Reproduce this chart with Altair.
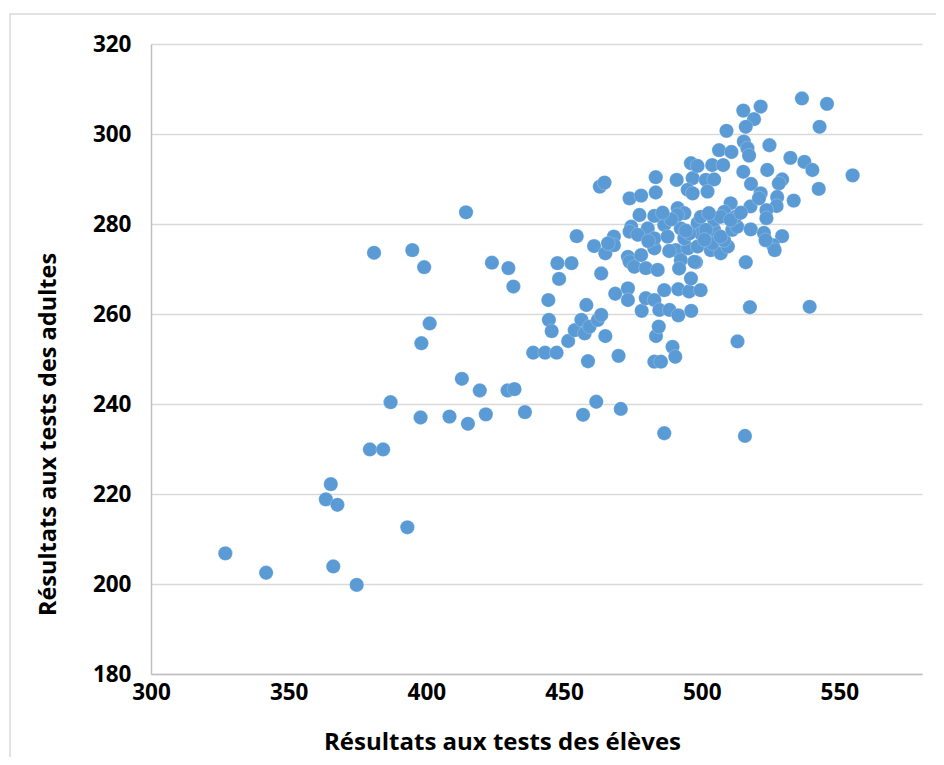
import altair as alt
import pandas as pd

# Résultats aux tests des élèves (x) et des adultes (y)
eleves = [
    327.0, 341.8, 366.2, 374.7, 363.5, 365.3, 367.7, 379.5, 384.3, 393.1,
    387.0, 397.9, 398.2, 401.2, 381.0, 394.9, 399.2, 408.4, 412.9, 414.4,
    415.1, 419.4, 421.6, 423.8, 429.5, 432.0, 429.8, 431.6, 435.8, 438.8,
    443.1, 447.3, 444.3, 444.5, 445.5, 447.6, 452.7, 448.2, 454.6, 451.5,
    453.9, 456.3, 457.5, 459.3, 462.3, 463.5, 465.0, 458.1, 458.7, 456.9,
    461.7, 470.6, 469.8, 460.9, 465.0, 468.1, 468.1, 463.5, 463.0, 464.7,
    473.8, 478.0, 468.6, 473.2, 473.2, 478.2, 479.7, 482.8, 482.8, 485.2,
    489.4, 490.4, 483.4, 484.4, 486.4, 513.0, 515.7, 516.0, 517.5, 539.2,
    484.6, 488.3, 491.5, 496.2, 486.4, 491.5, 495.4, 499.6, 496.1, 473.2,
    473.8, 475.5, 479.7, 484.0, 478.0, 482.8, 490.6, 492.4, 491.8, 497.9,
    495.0, 498.5, 503.3, 506.9, 504.1, 509.5, 497.3, 474.4, 473.8, 480.4,
    486.4, 476.8, 482.8, 487.6, 492.4, 493.7, 498.5, 499.7, 504.5, 503.9,
    508.1, 477.4, 482.8, 499.7, 491.3, 493.7, 510.5, 508.2, 483.3, 490.9,
    496.7, 501.5, 504.5, 483.3, 494.9, 496.7, 502.1, 496.1, 498.5, 503.8,
    507.8, 506.3, 510.8, 509.0, 515.1, 521.4, 519.0, 516.0, 515.3, 516.6,
    517.2, 524.6, 532.2, 537.3, 540.2, 542.5, 523.8, 529.2, 528.0, 533.4,
    527.4, 527.2, 515.1, 517.9, 521.4, 517.7, 523.5, 523.5, 536.4, 545.5,
    542.8, 554.8, 504.5, 495.5, 501.5, 506.9, 511.1, 512.9, 512.2, 517.8,
    522.6, 529.2, 525.9, 526.5, 523.2, 520.8, 491.2, 506.9, 510.5, 466.0,
    488.9, 485.8, 480.6, 488.2, 494.2, 501.0, 502.6, 514.2,
]
adultes = [
    206.8, 202.5, 203.9, 199.8, 218.8, 222.2, 217.6, 229.9, 229.9, 212.6,
    240.4, 237.0, 253.5, 257.9, 273.6, 274.2, 270.4, 237.2, 245.6, 282.6,
    235.6, 243.0, 237.7, 271.4, 243.0, 243.3, 270.2, 266.1, 238.2, 251.4,
    251.4, 251.4, 263.1, 258.7, 256.2, 271.3, 271.3, 267.8, 277.3, 254.0,
    256.4, 258.7, 255.7, 257.2, 258.7, 259.8, 255.1, 262.0, 249.5, 237.6,
    240.5, 238.9, 250.7, 275.1, 273.5, 277.2, 275.3, 269.0, 288.3, 289.2,
    285.7, 286.3, 264.5, 265.7, 263.1, 260.7, 263.5, 263.1, 249.4, 249.4,
    252.7, 250.5, 255.1, 257.2, 233.5, 253.9, 232.9, 271.5, 261.5, 261.6,
    260.9, 260.9, 259.7, 260.7, 265.3, 265.5, 265.0, 265.3, 267.9, 272.7,
    271.6, 270.5, 270.2, 269.8, 273.1, 274.6, 274.2, 272.0, 270.1, 271.5,
    274.6, 275.0, 274.2, 273.5, 276.1, 275.0, 271.6, 279.4, 278.3, 279.0,
    279.8, 277.6, 276.8, 277.2, 279.0, 276.8, 280.2, 277.9, 278.7, 275.7,
    276.4, 282.0, 281.8, 281.6, 283.5, 282.4, 284.6, 282.7, 290.4, 289.8,
    290.2, 289.8, 289.9, 287.0, 287.6, 286.8, 287.2, 293.5, 292.9, 293.1,
    293.1, 296.4, 296.0, 300.7, 305.2, 306.1, 303.3, 301.6, 298.3, 296.8,
    295.2, 297.5, 294.7, 293.8, 292.0, 287.8, 292.0, 289.9, 289.0, 285.2,
    286.0, 284.0, 291.6, 288.9, 286.8, 283.9, 283.1, 281.3, 307.9, 306.7,
    301.6, 290.8, 280.9, 277.9, 278.7, 277.2, 278.7, 279.4, 281.6, 278.8,
    278.0, 277.3, 275.3, 274.2, 276.4, 285.7, 282.0, 281.6, 280.9, 275.7,
    281.0, 282.5, 276.2, 274.0, 278.5, 276.5, 282.4, 282.5,
]

x_ticks = [300, 350, 400, 450, 500, 550]
y_ticks = [180, 200, 220, 240, 260, 280, 300, 320]

df = pd.DataFrame({"eleves": eleves, "adultes": adultes})

FONT = "Open Sans"

points = alt.Chart(df).mark_circle(
    size=205, color="#5B9BD5", opacity=1, stroke="#ffffff", strokeWidth=0.4, strokeOpacity=0.5
).encode(
    x=alt.X(
        "eleves:Q",
        scale=alt.Scale(domain=[300, 580], nice=False, zero=False),
        axis=alt.Axis(
            values=x_ticks,
            title="Résultats aux tests des élèves",
            grid=False,
            domain=True,
            domainColor="#bfbfbf",
            domainWidth=1.5,
            ticks=False,
            labelFlush=False,
            labelFont=FONT,
            labelFontSize=22.5,
            labelFontWeight="bold",
            labelColor="#000000",
            labelPadding=7,
            titleFont=FONT,
            titleFontSize=24,
            titleFontWeight="bold",
            titleColor="#000000",
            titleX=351,
            titleY=68,
            titleAlign="center",
            titleBaseline="middle",
        ),
    ),
    y=alt.Y(
        "adultes:Q",
        scale=alt.Scale(domain=[180, 320], nice=False, zero=False),
        axis=alt.Axis(
            values=y_ticks,
            title="Résultats aux tests des adultes",
            grid=True,
            gridColor="#d9d9d9",
            gridWidth=1.5,
            domain=True,
            domainColor="#bfbfbf",
            domainWidth=1.5,
            ticks=False,
            labelFlush=False,
            labelFont=FONT,
            labelFontSize=22.5,
            labelFontWeight="bold",
            labelColor="#000000",
            labelPadding=20,
            titleFont=FONT,
            titleFontSize=23.5,
            titleFontWeight="bold",
            titleColor="#000000",
            titleX=-103,
            titleY=390,
            titleAngle=270,
            titleAlign="center",
            titleBaseline="middle",
        ),
    ),
)

frame = alt.Chart(alt.Data(values=[{"k": 1}])).mark_rect(
    fill=None, stroke="#d9d9d9", strokeWidth=1.5
).encode(
    x=alt.value(-141), x2=alt.value(820), y=alt.value(-30), y2=alt.value(780)
)

chart = alt.layer(frame, points).properties(
    width=771,
    height=630,
    autosize=alt.AutoSizeParams(type="none"),
    padding={"left": 143, "top": 36, "right": 14, "bottom": 83},
    background="#ffffff",
).configure_view(stroke=None)

chart.save("out.html", embed_options={"renderer": "svg", "actions": False})
